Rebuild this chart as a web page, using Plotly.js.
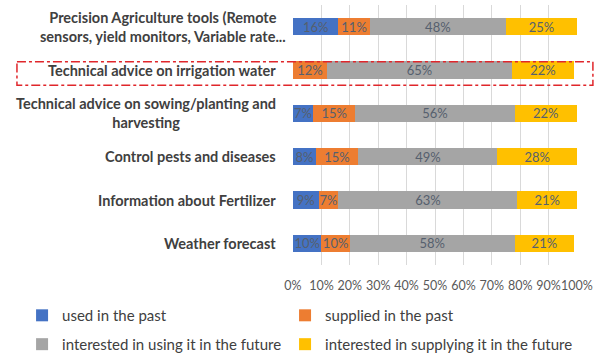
<!DOCTYPE html>
<html><head><meta charset="utf-8">
<script src="https://cdn.plot.ly/plotly-3.0.1.min.js"></script>
<style>html,body{margin:0;padding:0;background:#fff}#chart{width:605px;height:361px}</style>
</head><body><div id="chart"></div>
<script>
const categories = [
  "Precision Agriculture tools (Remote<br>sensors, yield monitors, Variable rate...",
  "Technical advice on irrigation water",
  "Technical advice on sowing/planting and<br>harvesting",
  "Control pests and diseases",
  "Information about Fertilizer",
  "Weather forecast"
];
const seriesNames = ["used in the past","supplied in the past","interested in using it in the future","interested in supplying it in the future"];
const usedPast        = [16, 0, 7, 8, 9, 10];
const suppliedPast    = [11, 12, 15, 15, 7, 10];
const interestedUsing = [48, 65, 56, 49, 63, 58];
const interestedSupp  = [25, 22, 22, 28, 21, 21];
const xTicks = [0,10,20,30,40,50,60,70,80,90,100];

const colors = ["#4472C4","#ED7D31","#A5A5A5","#FFC000"];
const seriesVals = [usedPast, suppliedPast, interestedUsing, interestedSupp];
const legendIds = ["legend","legend2","legend3","legend4"];
const yIdx = categories.map((c,i)=>i);

const traces = seriesVals.map((vals,k)=>({
  type:'bar', orientation:'h', name:seriesNames[k],
  y: yIdx, x: vals,
  marker:{color:colors[k]},
  text: vals.map(v=> v>0 ? v+'%' : ''),
  textposition:'inside', insidetextanchor:'middle', constraintext:'none',
  textfont:{family:'Lato, sans-serif', size:13, color:'#56606e'},
  hoverinfo:'skip',
  legend: legendIds[k]
}));

const annotations = categories.map((c,i)=>({
  xref:'paper', yref:'y', x:0, y:i, xanchor:'right', yanchor:'middle',
  xshift: i===0 ? -5 : -15, text:c, showarrow:false, align:'center',
  font:{family:'Lato, sans-serif', size:14.5, color:'#404040', weight:'bold'}
}));

const legFont = {family:'Lato, sans-serif', size:15, color:'#404040'};
const legBase = {orientation:'v', xanchor:'left', yanchor:'top', font:legFont, bgcolor:'rgba(0,0,0,0)'};
const layout = {
  width:605, height:361,
  margin:{l:293, r:28, t:5, b:96, autoexpand:false},
  paper_bgcolor:'#fff', plot_bgcolor:'#fff',
  barmode:'stack', bargap:0.6,
  showlegend:true,
  xaxis:{range:[0,100], tickvals:xTicks, ticktext:xTicks.map(v=>v+'%'), tickangle:0, automargin:false,
    showgrid:true, gridcolor:'#d9d9d9', gridwidth:1, zeroline:false, showline:false,
    ticks:'', ticklabelstandoff:11,
    tickfont:{family:'Lato, sans-serif', size:12.5, color:'#595959'}, fixedrange:true},
  yaxis:{tickvals:yIdx, showticklabels:false, autorange:false, showgrid:false, zeroline:false, ticks:'', range:[5.5,-0.5], automargin:false},
  legend: Object.assign({}, legBase, {x:-0.954, y:-0.131}),
  legend2: Object.assign({}, legBase, {x:-0.028, y:-0.131}),
  legend3: Object.assign({}, legBase, {x:-0.954, y:-0.242}),
  legend4: Object.assign({}, legBase, {x:-0.028, y:-0.242}),
  annotations: annotations,
  shapes:[{type:'rect', xref:'paper', yref:'y', x0:-0.972, x1:1.056, y0:0.81, y1:1.35,
    line:{color:'#e0262b', width:1.5, dash:'dashdot'}, fillcolor:'rgba(0,0,0,0)'}]
};
Plotly.newPlot('chart', traces, layout, {displayModeBar:false, staticPlot:true});
</script></body></html>
